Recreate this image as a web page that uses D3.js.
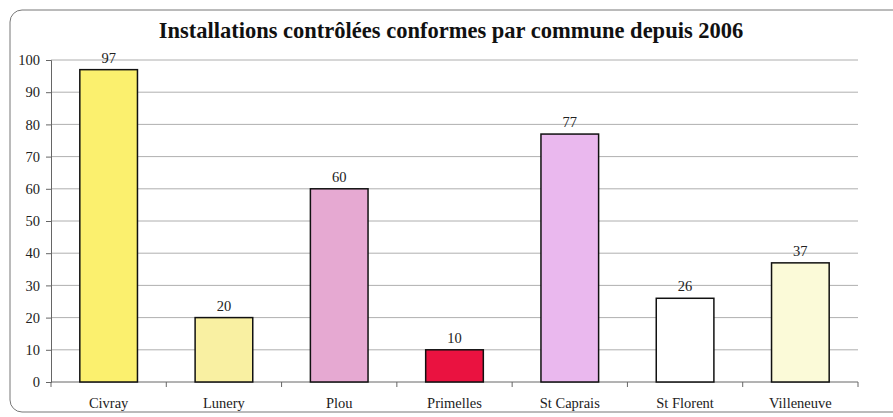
<!DOCTYPE html>
<html><head><meta charset="utf-8">
<script src="https://cdn.jsdelivr.net/npm/d3@7"></script>
<style>body{margin:0;background:#fff}svg{display:block}</style>
</head><body>
<svg id="c" width="893" height="417"></svg>
<script>
const categories = ["Civray","Lunery","Plou","Primelles","St Caprais","St Florent","Villeneuve"];
const values = [97,20,60,10,77,26,37];
const colors = ["#fbf06e","#f9f0a2","#e6a9d2","#ea1240","#eab8ee","#ffffff","#fbfad8"];
const yTicks = [0,10,20,30,40,50,60,70,80,90,100];
const title = "Installations contrôlées conformes par commune depuis 2006";

const svg = d3.select("#c");
const font = "'Liberation Serif','Times New Roman',serif";
const m = {l:51, r:858, t:60, b:382};

svg.append("rect").attr("x",10).attr("y",10).attr("width",900).attr("height",402)
  .attr("rx",12).attr("fill","#fff").attr("stroke","#777").attr("stroke-width",1);

svg.append("text").attr("x",451).attr("y",38).attr("text-anchor","middle")
  .attr("font-family",font).attr("font-weight","bold").attr("font-size",22.5)
  .attr("fill","#111").text(title);

const x = d3.scaleBand().domain(categories).range([m.l,m.r]).paddingInner(0.5).paddingOuter(0.25);
const y = d3.scaleLinear().domain([0,100]).range([m.b,m.t]);

// gridlines
svg.append("g").selectAll("line").data(yTicks.filter(d=>d>0)).join("line")
  .attr("x1",m.l).attr("x2",m.r).attr("y1",d=>y(d)).attr("y2",d=>y(d))
  .attr("stroke","#9a9a9a").attr("stroke-width",0.8);

// y axis
const ya = svg.append("g").attr("transform",`translate(${m.l},0)`)
  .call(d3.axisLeft(y).tickValues(yTicks).tickSize(5).tickPadding(6));
ya.select(".domain").attr("stroke","#666");
ya.selectAll(".tick line").attr("stroke","#666");
ya.selectAll("text").attr("font-family",font).attr("font-size",14.5).attr("fill","#222");

// x axis
const xa = svg.append("g").attr("transform",`translate(0,${m.b})`);
xa.append("line").attr("x1",m.l).attr("x2",m.r).attr("stroke","#666");
const bounds = d3.range(categories.length+1).map(i=>m.l + i*(m.r-m.l)/categories.length);
xa.selectAll("line.t").data(bounds).join("line").attr("class","t")
  .attr("x1",d=>d).attr("x2",d=>d).attr("y1",0).attr("y2",5).attr("stroke","#666");
xa.selectAll("text").data(categories).join("text")
  .attr("x",d=>x(d)+x.bandwidth()/2).attr("y",26).attr("text-anchor","middle")
  .attr("font-family",font).attr("font-size",14.5).attr("fill","#222").text(d=>d);

// bars
svg.append("g").selectAll("rect").data(values).join("rect")
  .attr("x",(d,i)=>x(categories[i])).attr("width",x.bandwidth())
  .attr("y",d=>y(d)).attr("height",d=>y(0)-y(d))
  .attr("fill",(d,i)=>colors[i]).attr("stroke","#111").attr("stroke-width",1.5);

// labels
svg.append("g").selectAll("text").data(values).join("text")
  .attr("x",(d,i)=>x(categories[i])+x.bandwidth()/2).attr("y",d=>y(d)-7)
  .attr("text-anchor","middle").attr("font-family",font).attr("font-size",14.5).attr("fill","#222")
  .text(d=>d);
</script>
</body></html>
